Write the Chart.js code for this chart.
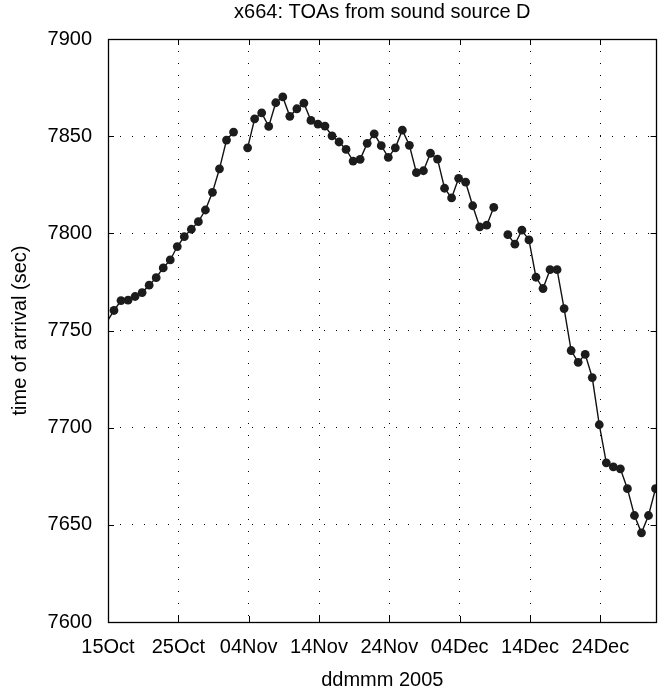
<!DOCTYPE html>
<html>
<head>
<meta charset="utf-8">
<script src="https://cdn.jsdelivr.net/npm/chart.js@4/dist/chart.umd.min.js"></script>
<style>
  html, body { margin: 0; padding: 0; background: #fff; }
</style>
</head>
<body>
<canvas id="toaChart" width="661" height="690"></canvas>
<script>
// days since 15 Oct 2005 where the date labels sit
const tickDays = [0, 10, 20, 30, 40, 50, 60, 70];
const tickLabels = ["15Oct", "25Oct", "04Nov", "14Nov", "24Nov", "04Dec", "14Dec", "24Dec"];

// one arrival time per day (sec), null = no fix that day
const toa = [
  7754.5, 7760.3, 7765.4, 7765.6, 7767.5, 7769.5, 7773.3, 7777.2, 7782.2, 7786.3,
  7793.2, 7798.3, 7802.1, 7806.0, 7812.0, 7821.1, 7833.2, 7848.0, 7852.1, null,
  7844.0, 7858.9, 7862.0, 7855.0, 7867.2, 7870.2, 7860.2, 7864.1, 7867.0, 7858.1,
  7856.2, 7855.2, 7850.2, 7847.0, 7843.2, 7837.2, 7838.1, 7846.3, 7851.2, 7845.1,
  7839.1, 7844.0, 7853.1, 7845.3, 7831.2, 7832.2, 7841.2, 7838.2, 7823.2, 7818.2,
  7828.3, 7826.3, 7814.2, 7803.3, 7804.2, 7813.4, null, 7799.3, 7794.4, 7801.6,
  7796.6, 7777.4, 7771.6, 7781.3, 7781.3, 7761.3, 7739.7, 7733.6, 7737.7, 7725.8,
  7701.5, 7681.9, 7679.8, 7678.8, 7668.6, 7654.8, 7645.9, 7654.8, 7668.6
];
// fixes come in a little before midnight, first one is from 14 Oct
const firstDay = -1;
const sampleTime = 0.85;

const points = toa.map((v, i) => ({ x: firstDay + i + sampleTime, y: v }));

Chart.defaults.font.family = "'Liberation Sans', Arial, sans-serif";
Chart.defaults.font.size = 20;
Chart.defaults.color = "#000";

// solid box around the plot with inward tick marks, matlab style
const frame = {
  id: "frame",
  afterDatasetsDraw(chart) {
    const { ctx, chartArea: a, scales } = chart;
    const len = 6;
    ctx.save();
    ctx.strokeStyle = "#000";
    ctx.lineWidth = 1;
    ctx.beginPath();
    scales.x.ticks.forEach(t => {
      const px = Math.round(scales.x.getPixelForValue(t.value)) + 0.5;
      ctx.moveTo(px, a.bottom); ctx.lineTo(px, a.bottom - len);
      ctx.moveTo(px, a.top); ctx.lineTo(px, a.top + len);
    });
    scales.y.ticks.forEach(t => {
      const py = Math.round(scales.y.getPixelForValue(t.value)) + 0.5;
      ctx.moveTo(a.left, py); ctx.lineTo(a.left + len, py);
      ctx.moveTo(a.right, py); ctx.lineTo(a.right - len, py);
    });
    ctx.stroke();
    ctx.lineWidth = 1.3;
    ctx.strokeRect(Math.round(a.left) + 0.5, Math.round(a.top) + 0.5,
                   Math.round(a.right - a.left) - 1, Math.round(a.bottom - a.top));
    ctx.restore();
  }
};

new Chart(document.getElementById("toaChart"), {
  type: "line",
  data: {
    datasets: [{
      data: points,
      borderColor: "#111",
      borderWidth: 1.4,
      backgroundColor: "#1c1c1c",
      pointBackgroundColor: "#1c1c1c",
      pointBorderWidth: 0,
      pointRadius: ctx => (ctx.raw && ctx.raw.x < 0) ? 0 : 4.4,
      tension: 0,
      spanGaps: false
    }]
  },
  options: {
    responsive: false,
    animation: false,
    layout: { padding: { left: 0, right: 1, top: 0, bottom: 0 } },
    plugins: {
      legend: { display: false },
      tooltip: { enabled: false },
      title: {
        display: true,
        text: "x664: TOAs from sound source D",
        fullSize: false,
        color: "#000",
        font: { size: 20, weight: "normal" },
        padding: { top: 0, bottom: 15 }
      }
    },
    scales: {
      x: {
        type: "linear",
        min: 0,
        max: 78,
        afterBuildTicks: s => { s.ticks = tickDays.map(d => ({ value: d })); },
        afterFit: s => { s.height = 68; },
        ticks: {
          autoSkip: false,
          maxRotation: 0,
          padding: 13,
          callback: (v, i) => tickLabels[i]
        },
        grid: { drawTicks: false, color: "#000", lineWidth: 1 },
        border: { display: false, dash: [1, 11] },
        title: {
          display: true,
          text: "ddmmm 2005",
          padding: { top: 0, bottom: -2 }
        }
      },
      y: {
        min: 7600,
        max: 7900,
        afterFit: s => { s.width = 108; },
        ticks: { stepSize: 50, padding: 16, callback: v => String(v) },
        grid: { drawTicks: false, color: "#000", lineWidth: 1 },
        border: { display: false, dash: [1, 11] },
        title: {
          display: true,
          text: "time of arrival (sec)",
          padding: { top: 8, bottom: 0 }
        }
      }
    }
  },
  plugins: [frame]
});
</script>
</body>
</html>
